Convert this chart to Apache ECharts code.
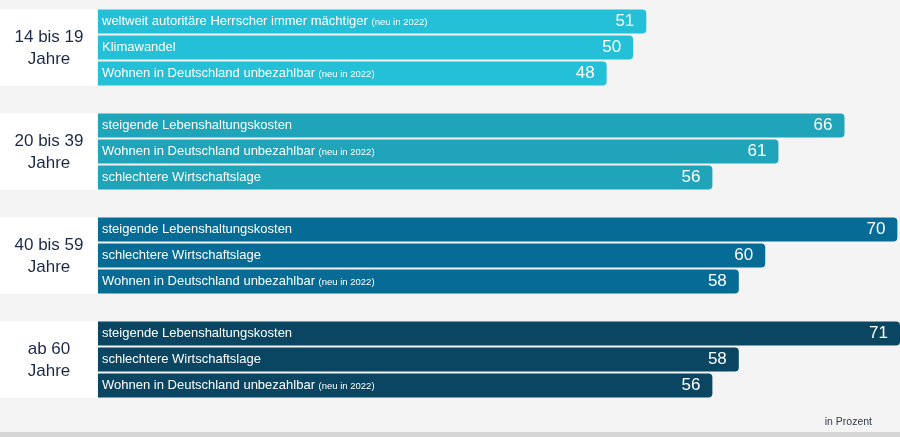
<!DOCTYPE html>
<html>
<head>
<meta charset="utf-8">
<script src="https://cdn.jsdelivr.net/npm/echarts@6/dist/echarts.min.js"></script>
<style>
html,body{margin:0;padding:0;background:#f4f4f4;}
#c{width:900px;height:437px;}
</style>
</head>
<body>
<div id="c"></div>
<script>
// ---- data ----
const groupLabels = ['14 bis 19\nJahre', '20 bis 39\nJahre', '40 bis 59\nJahre', 'ab 60\nJahre'];
const group1Items = ['weltweit autoritäre Herrscher immer mächtiger (neu in 2022)', 'Klimawandel', 'Wohnen in Deutschland unbezahlbar (neu in 2022)'];
const group1Values = [51, 50, 48];
const group2Items = ['steigende Lebenshaltungskosten', 'Wohnen in Deutschland unbezahlbar (neu in 2022)', 'schlechtere Wirtschaftslage'];
const group2Values = [66, 61, 56];
const group3Items = ['steigende Lebenshaltungskosten', 'schlechtere Wirtschaftslage', 'Wohnen in Deutschland unbezahlbar (neu in 2022)'];
const group3Values = [70, 60, 58];
const group4Items = ['steigende Lebenshaltungskosten', 'schlechtere Wirtschaftslage', 'Wohnen in Deutschland unbezahlbar (neu in 2022)'];
const group4Values = [71, 58, 56];
const groupColors = ['#24c0d7', '#1fa4b9', '#066c95', '#0a4661'];
const unitNote = 'in Prozent';
const newTag = ' (neu in 2022)';

// ---- build ----
const groupItems = [group1Items, group2Items, group3Items, group4Items];
const groupValues = [group1Values, group2Values, group3Values, group4Values];
const categories = [];
const names = [];
const barData = [];
const groupRanges = [];
groupItems.forEach((items, g) => {
  const start = categories.length;
  items.forEach((name, i) => {
    categories.push('c' + categories.length);
    names.push(name);
    barData.push({ value: groupValues[g][i], itemStyle: { color: groupColors[g] } });
  });
  groupRanges.push([start, categories.length - 1]);
  if (g < groupItems.length - 1) {
    categories.push('c' + categories.length);
    names.push('');
    barData.push({ value: null });
  }
});

const FONT = '"Liberation Sans", Arial, sans-serif';
const chart = echarts.init(document.getElementById('c'), null, { renderer: 'canvas' });

const AXIS_START = 9.5;
const option = {
  backgroundColor: '#f4f4f4',
  animation: false,
  grid: { left: 98, right: 0, top: 8.5, bottom: 437 - 398.5, containLabel: false },
  xAxis: { type: 'value', min: AXIS_START, startValue: AXIS_START, max: 70.2, show: false },
  yAxis: { type: 'category', data: categories, inverse: true, show: false },
  series: [
    {
      type: 'bar',
      data: barData,
      barWidth: 24,
      clip: true,
      itemStyle: { borderRadius: [0, 4, 4, 0] },
      label: {
        show: true,
        position: 'insideLeft',
        distance: 4,
        color: '#ffffff',
        fontFamily: FONT,
        fontSize: 13,
        formatter: (p) => {
          const n = names[p.dataIndex];
          if (n.endsWith(newTag)) {
            return '{m|' + n.slice(0, n.length - newTag.length) + '} {s|' + newTag.trim() + '}';
          }
          return '{m|' + n + '}';
        },
        rich: {
          m: { color: '#fff', fontSize: 13, fontFamily: FONT },
          s: { color: '#fff', fontSize: 9.5, fontFamily: FONT, padding: [2, 0, 0, 0] }
        }
      },
      z: 2
    },
    {
      type: 'bar',
      data: barData.map(d => d.value),
      barWidth: 24,
      barGap: '-100%',
      clip: true,
      itemStyle: { color: 'rgba(0,0,0,0)' },
      label: {
        show: true,
        position: 'insideRight',
        distance: 12,
        color: '#ffffff',
        fontFamily: FONT,
        fontSize: 17,
        formatter: (p) => p.value
      },
      silent: true,
      z: 3
    }
  ]
};
chart.setOption(option);

// group label boxes, positioned from the category axis
const graphics = [];
groupRanges.forEach((r, g) => {
  const y0 = chart.convertToPixel({ yAxisIndex: 0 }, r[0]);
  const y1 = chart.convertToPixel({ yAxisIndex: 0 }, r[1]);
  const top = y0 - 12.5, bottom = y1 + 12.5;
  graphics.push({
    type: 'rect', x: 0, y: top,
    shape: { width: 97, height: bottom - top },
    style: { fill: '#ffffff' }, silent: true
  });
  graphics.push({
    type: 'text', x: 49, y: (top + bottom) / 2 + 1,
    style: {
      text: groupLabels[g], fill: '#1c2a48', font: '17px ' + FONT,
      align: 'center', verticalAlign: 'middle', lineHeight: 22
    }, silent: true
  });
});
graphics.push({
  type: 'text', right: 28, top: 417,
  style: { text: unitNote, fill: '#333a4a', font: '10.5px ' + FONT }
});
graphics.push({
  type: 'rect', left: 0, top: 432,
  shape: { width: 900, height: 5 },
  style: { fill: '#d6d6d6' }, silent: true
});
chart.setOption({ graphic: graphics });
</script>
</body>
</html>
